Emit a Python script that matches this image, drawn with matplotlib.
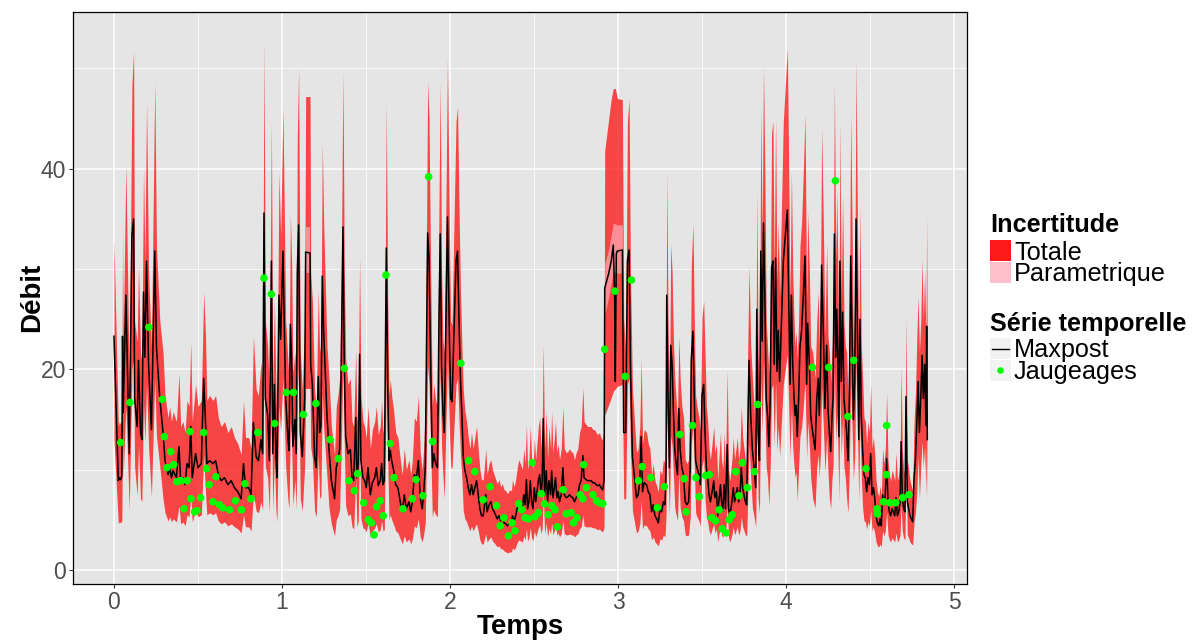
import matplotlib
matplotlib.use("Agg")
import matplotlib.pyplot as plt
from matplotlib.patches import Rectangle
from matplotlib.lines import Line2D

plt.rcParams['font.family'] = ['Liberation Sans', 'DejaVu Sans']

# ---------------- data ----------------
t_series = [
0.000,0.026,0.032,0.040,0.047,0.051,0.055,0.071,0.091,0.107,0.117,0.123,0.138,0.146,0.158,0.166,0.176,0.184,0.194,0.206,
0.223,0.243,0.253,0.273,0.292,0.304,0.322,0.332,0.342,0.352,0.372,0.387,0.397,0.411,0.423,0.435,0.447,0.457,0.466,0.486,
0.500,0.520,0.534,0.545,0.553,0.569,0.589,0.605,0.621,0.638,0.658,0.678,0.698,0.717,0.737,0.757,0.771,0.783,0.802,0.816,
0.830,0.846,0.860,0.875,0.885,0.893,0.901,0.915,0.925,0.937,0.945,0.955,0.964,0.970,
0.982,0.992,1.006,1.022,1.036,1.042,1.050,1.058,1.065,1.077,1.085,1.091,1.099,1.109,1.121,1.135,1.141,1.167,1.171,1.181,
1.194,1.204,1.216,1.224,1.232,1.240,1.248,1.256,1.268,1.280,1.294,1.313,1.323,1.333,1.343,1.353,1.363,1.371,1.379,1.393,
1.407,1.417,1.427,1.439,1.446,1.454,1.462,1.470,1.482,1.492,1.502,1.512,1.526,1.538,1.552,1.562,1.573,1.585,1.593,1.601,
1.609,1.621,1.629,1.637,1.645,1.653,1.665,1.677,1.690,1.704,1.716,1.728,1.740,1.756,1.766,1.776,1.788,1.800,1.812,1.823,
1.835,1.843,1.853,1.867,1.875,1.885,1.895,1.903,1.915,1.925,1.935,1.942,1.950,1.958,1.966,1.978,1.985,
1.996,2.004,2.012,2.024,2.036,2.045,2.055,2.063,2.071,2.079,2.089,2.099,2.109,2.119,2.128,2.138,2.148,2.158,2.168,2.178,
2.188,2.198,2.208,2.213,2.221,2.233,2.243,2.253,2.263,2.273,2.281,2.292,2.302,2.312,2.322,2.332,2.342,2.356,2.366,2.372,
2.382,2.391,2.399,2.409,2.419,2.431,2.439,2.447,2.455,2.462,2.470,2.478,2.486,2.494,2.502,2.510,2.518,2.526,2.534,2.542,
2.549,2.555,2.563,2.573,2.581,2.589,2.599,2.605,2.613,2.621,2.628,2.636,2.644,2.652,2.662,2.672,2.680,2.692,2.702,2.711,
2.721,2.731,2.741,2.751,2.761,2.771,2.781,2.791,2.798,2.810,2.820,2.830,2.840,2.850,2.860,2.870,2.879,2.889,2.899,2.909,
2.917,2.921,2.945,2.960,2.972,2.980,2.984,2.990,2.996,3.026,3.034,3.046,3.056,3.066,3.074,3.086,3.100,3.110,3.120,3.130,
3.138,3.146,3.156,3.170,3.180,3.190,3.200,3.210,3.220,3.230,3.240,3.250,3.260,3.270,3.280,3.286,3.290,3.298,3.306,3.314,
3.322,3.330,3.338,3.346,3.354,3.362,3.370,3.380,3.390,3.400,3.410,3.420,3.430,3.436,3.446,3.454,3.462,3.470,3.482,3.490,
3.500,3.510,3.518,3.526,3.534,3.542,3.550,3.560,3.570,3.576,3.586,3.594,3.600,3.610,3.616,3.624,3.632,3.640,3.650,3.658,
3.666,3.678,3.686,3.694,3.702,3.710,3.718,3.726,3.734,3.742,3.750,3.758,3.766,3.772,3.780,3.790,3.800,3.810,3.820,3.826,
3.834,3.842,3.850,3.858,3.866,3.874,3.882,3.890,3.898,3.906,3.914,3.922,3.930,3.938,3.946,3.954,3.962,
3.984,4.000,4.008,4.016,4.024,4.032,4.040,4.048,4.054,4.060,4.067,4.075,4.083,4.093,4.103,4.113,4.123,4.129,4.139,4.147,
4.159,4.173,4.183,4.192,4.198,4.206,4.212,4.222,4.232,4.242,4.250,4.258,4.266,4.274,4.280,4.288,4.296,4.302,4.308,4.315,
4.321,4.329,4.337,4.345,4.353,4.361,4.369,4.377,4.385,4.393,4.401,4.409,4.417,4.425,4.433,4.440,4.448,4.456,4.464,4.472,
4.480,4.488,4.496,4.504,4.512,4.520,4.528,4.536,4.544,4.552,4.560,4.567,4.575,4.583,4.591,4.599,4.607,4.615,4.623,4.631,
4.639,4.647,4.655,4.663,4.671,4.679,4.685,4.692,4.700,4.708,4.714,4.722,4.730,4.738,4.746,4.754,4.762,4.770,4.778,4.786,
4.794,4.802,4.810,4.817,4.825,4.833,4.837,4.841]

q_maxpost = [
23.3,8.9,9.2,9.0,9.4,23.3,15.7,27.4,11.6,33.4,35.0,17.1,14.3,20.9,13.7,13.0,27.7,21.2,30.8,20.5,
14.0,31.8,22.2,17.1,13.7,10.9,9.5,10.2,9.2,9.9,9.2,12.3,8.9,9.2,8.5,10.6,10.2,14.3,9.2,11.6,
10.2,10.6,19.1,14.7,10.6,10.9,10.6,10.9,9.5,8.9,9.2,8.5,8.9,8.2,7.8,7.1,10.6,8.2,8.2,7.5,
14.7,11.3,10.9,13.0,11.6,35.6,17.1,15.4,10.9,30.8,11.6,18.5,11.3,9.2,
27.4,23.0,31.8,17.1,13.0,11.9,24.5,20.9,12.3,15.0,11.6,29.6,34.4,13.7,11.3,17.1,31.7,31.6,20.5,18.5,
11.3,10.2,19.3,13.7,14.3,29.3,23.9,20.5,15.4,12.0,8.9,7.1,10.2,10.9,12.0,20.5,34.2,20.5,13.3,11.6,
12.0,9.2,8.9,15.2,9.2,10.6,21.5,10.9,9.2,8.9,8.2,10.2,7.5,8.7,9.2,10.2,8.4,8.9,10.6,8.5,
8.9,32.1,18.8,10.9,11.9,10.9,9.9,8.5,8.2,6.8,5.8,7.5,6.1,6.8,5.8,6.8,9.5,9.2,10.9,7.2,
6.1,7.5,10.2,33.6,31.2,20.5,10.2,11.6,10.6,10.2,25.7,33.5,20.5,15.7,13.7,27.4,35.2,
23.9,17.1,16.8,23.9,30.8,31.8,23.9,18.8,15.4,11.3,9.9,9.2,8.2,7.5,8.5,7.5,8.2,8.9,7.5,6.1,
5.4,5.4,6.8,7.5,5.8,6.5,6.8,6.1,5.8,5.4,5.1,5.4,4.9,5.1,4.7,4.6,4.4,4.7,4.6,5.4,
4.9,5.4,6.1,6.8,6.5,6.1,7.5,6.5,9.0,6.1,6.8,8.9,6.8,6.1,8.2,6.8,7.8,8.9,9.5,7.5,
8.9,15.1,7.5,9.9,6.8,8.9,7.5,9.9,7.2,8.2,9.2,7.2,7.8,6.8,7.5,10.2,7.5,7.2,7.3,7.5,
7.3,7.2,6.8,7.2,7.5,8.5,8.9,11.4,9.2,9.0,8.9,8.9,8.9,8.7,8.7,8.5,8.4,8.5,8.2,8.0,
8.9,28.1,29.6,30.8,32.4,27.4,18.8,31.5,31.8,31.9,13.7,13.7,30.8,31.9,20.5,11.3,8.9,7.2,7.5,8.9,
13.3,7.8,8.7,8.5,7.8,7.5,5.8,6.5,5.4,5.1,4.7,6.1,5.8,6.8,6.5,10.2,27.4,17.1,10.2,22.4,
20.5,15.7,12.0,10.6,9.5,16.1,12.0,10.2,9.5,6.8,6.5,6.8,10.2,20.9,23.8,17.1,10.9,10.2,9.5,8.5,
17.4,18.5,13.7,10.2,9.2,7.5,6.8,7.8,8.9,7.2,7.8,5.4,6.8,8.5,6.8,6.1,8.5,6.1,12.5,6.1,
5.4,6.8,8.2,6.8,7.5,8.2,6.8,7.5,10.2,8.2,7.5,6.8,6.5,13.7,20.9,15.4,12.0,10.2,8.2,26.0,
13.7,10.9,31.8,22.8,34.6,27.4,17.1,15.4,12.3,17.1,30.1,30.8,20.5,31.1,19.8,23.9,18.8,
30.8,34.2,35.9,27.4,18.5,27.4,20.5,17.1,15.4,16.4,13.3,17.1,22.2,23.9,27.4,31.3,18.5,24.6,20.5,15.4,
13.7,12.0,17.1,19.1,15.4,20.5,30.4,23.9,16.1,22.4,16.1,13.7,11.8,15.4,17.1,33.5,21.2,26.0,21.2,13.3,
30.8,18.8,25.7,17.1,15.4,13.7,10.9,17.1,31.3,23.9,15.0,18.8,35.0,23.9,13.0,25.0,15.4,12.0,9.5,9.2,
7.8,9.2,8.5,11.6,7.5,8.2,7.2,5.4,4.7,4.4,5.1,4.4,7.5,6.5,7.5,11.1,6.8,5.8,5.4,6.1,
5.8,5.4,7.2,5.4,5.8,6.8,12.8,7.5,6.1,5.8,17.3,6.8,6.1,5.4,5.1,4.8,9.2,10.9,14.4,18.8,
13.7,17.1,21.4,17.1,20.5,14.4,24.3,13.0]

q_total_low = [
13.0,4.6,4.8,4.7,4.9,14.0,9.4,16.4,6.0,20.0,21.0,10.3,7.4,12.5,7.1,6.8,16.6,12.7,18.5,12.3,
7.3,19.1,13.3,10.3,7.1,5.7,4.9,5.3,4.8,5.1,4.8,6.4,4.6,4.8,4.4,5.5,5.3,7.4,4.8,6.0,
5.3,5.5,11.5,7.6,5.5,5.7,5.5,5.7,4.9,4.6,4.8,4.4,4.6,4.3,4.1,3.7,5.5,4.3,4.3,3.9,
7.6,5.9,5.7,6.8,6.0,21.4,10.3,9.2,5.7,18.5,6.0,11.1,5.9,4.8,
16.4,13.8,19.1,10.3,6.8,6.2,14.7,12.5,6.4,9.0,6.0,17.8,20.6,7.1,5.9,10.3,18.1,18.1,12.3,11.1,
5.9,5.3,11.6,7.1,7.4,17.6,14.3,12.3,9.2,6.2,4.6,3.4,5.0,5.4,6.0,12.3,20.5,12.3,6.4,5.4,
5.6,4.3,4.1,9.1,4.3,4.9,12.9,5.1,4.2,4.1,3.8,4.7,3.3,3.9,4.2,4.6,3.8,4.0,4.9,3.9,
4.0,19.3,11.3,5.0,5.5,5.0,4.5,3.9,3.7,3.1,2.6,3.4,2.8,3.1,2.6,3.1,4.4,4.2,5.1,3.3,
2.8,3.5,4.7,20.2,18.7,12.3,5.3,6.0,5.5,5.3,15.4,20.1,12.3,9.4,7.1,16.4,21.1,
14.3,10.3,10.1,14.3,18.5,19.1,14.3,11.3,9.2,5.9,5.1,4.8,4.3,3.9,4.4,3.9,4.3,4.6,3.9,3.0,
2.6,2.6,3.3,3.6,2.8,3.1,3.3,2.9,2.7,2.5,2.3,2.4,2.1,2.1,1.9,1.8,1.7,1.8,1.8,2.2,
2.0,2.3,2.7,3.0,2.9,2.8,3.4,3.0,4.1,2.9,3.2,4.2,3.2,2.9,3.9,3.3,3.7,4.2,4.5,3.6,
4.2,8.0,3.6,4.7,3.3,4.2,3.6,4.7,3.5,3.9,4.4,3.5,3.7,3.3,3.6,4.9,3.6,3.5,3.5,3.6,
3.5,3.5,3.3,3.5,3.6,4.1,4.3,5.5,4.4,4.3,4.3,4.3,4.3,4.2,4.2,4.1,4.0,4.1,3.9,3.8,
4.3,15.4,16.5,17.2,17.8,18.0,18.0,18.2,18.3,18.5,7.1,7.1,18.5,19.1,12.3,5.9,4.6,3.7,3.9,4.6,
6.9,4.1,4.5,4.4,4.1,3.9,3.0,3.3,2.8,2.6,2.4,3.1,3.0,3.5,3.3,5.3,16.4,10.3,5.3,13.4,
12.3,9.4,6.2,5.5,4.9,9.7,6.2,5.3,4.9,3.5,3.4,3.5,5.3,12.5,14.3,10.3,5.7,5.3,4.9,4.4,
10.4,11.1,7.1,5.3,4.8,3.9,3.5,4.1,4.6,3.7,4.1,2.8,3.5,4.4,3.5,3.2,4.4,3.2,6.5,3.2,
2.8,3.5,4.3,3.5,3.9,4.3,3.5,3.9,5.3,4.3,3.9,3.5,3.4,7.1,12.5,9.2,6.2,5.3,4.3,15.6,
7.1,5.7,19.1,13.7,20.8,16.4,10.3,9.2,6.4,10.3,18.1,18.5,12.3,18.7,11.9,14.3,11.3,
18.5,20.5,21.5,16.4,11.1,16.4,12.3,10.3,9.2,9.8,6.9,10.3,13.3,14.3,16.4,18.8,11.1,14.8,12.3,9.2,
7.1,6.2,10.3,11.5,9.2,12.3,18.2,14.3,9.7,13.4,9.7,7.1,6.1,9.2,10.3,20.1,12.7,15.6,12.7,6.9,
18.5,11.3,15.4,10.3,9.2,7.1,5.7,10.3,18.8,14.3,9.0,11.3,21.0,14.3,6.8,15.0,9.2,6.2,4.9,4.8,
4.1,4.8,4.4,6.0,3.9,4.3,3.7,2.8,2.4,2.3,2.6,2.3,3.9,3.4,3.9,5.8,3.5,3.0,2.8,3.2,
3.0,2.8,3.7,2.8,3.0,3.5,6.7,3.9,3.2,3.0,10.4,3.5,3.2,2.8,2.6,2.5,4.8,5.7,7.5,11.3,
7.1,10.3,12.8,10.3,12.3,7.5,14.6,6.8]

q_total_high = [
33.0,14.3,14.8,14.5,15.1,34.0,22.8,40.4,18.5,48.4,51.7,24.8,22.7,30.3,21.7,20.7,40.2,30.7,46.6,29.7,
22.2,48.6,32.2,24.8,21.7,17.4,15.2,16.3,14.8,15.8,14.8,19.6,14.3,14.8,13.7,16.9,16.3,22.7,14.8,18.5,
16.3,16.9,27.7,23.3,16.9,17.4,16.9,17.4,15.2,14.3,14.8,13.7,14.3,13.2,12.6,11.5,16.9,13.2,13.2,12.1,
23.3,18.0,17.4,20.7,18.5,52.7,24.8,22.3,17.4,44.7,18.5,26.8,18.0,14.8,
39.7,33.4,46.1,24.8,20.7,19.0,35.5,30.3,19.6,21.8,18.5,42.9,49.9,21.7,18.0,24.8,47.2,47.2,29.7,26.8,
18.0,16.3,28.0,21.7,22.7,42.5,34.7,29.7,22.3,19.1,14.3,11.5,16.3,17.4,19.1,29.7,49.6,29.7,21.1,18.5,
19.1,14.8,14.3,22.0,14.8,16.9,31.2,17.4,14.8,14.3,13.2,16.3,12.1,14.0,14.8,16.3,13.5,14.3,16.9,13.7,
14.3,46.5,27.3,17.4,19.0,17.4,15.8,13.7,13.2,11.0,9.5,12.1,10.0,11.0,9.5,11.0,15.2,14.8,17.4,11.7,
10.0,12.1,16.3,48.7,45.2,29.7,16.3,18.5,16.9,16.3,37.3,48.6,29.7,22.8,21.7,39.7,51.0,
34.7,24.8,24.4,34.7,44.7,46.1,34.7,27.3,22.3,18.0,15.8,14.8,13.2,12.1,13.7,12.1,13.2,14.3,12.1,10.0,
9.0,9.0,11.0,12.1,9.5,10.6,11.0,10.0,9.5,9.0,8.6,9.0,8.3,8.6,8.0,7.9,7.6,8.0,7.9,9.0,
8.3,9.0,10.0,11.0,10.6,10.0,12.1,10.6,14.5,10.0,11.0,14.3,11.0,10.0,13.2,11.0,12.6,14.3,15.2,12.1,
14.3,22.5,12.1,15.8,11.0,14.3,12.1,15.8,11.7,13.2,14.8,11.7,12.6,11.0,12.1,16.3,12.1,11.7,11.8,12.1,
11.8,11.7,11.0,11.7,12.1,13.7,14.3,18.2,14.8,14.5,14.3,14.3,14.3,14.0,14.0,13.7,13.5,13.7,13.2,12.9,
14.3,41.8,45.0,47.0,48.0,48.0,48.0,47.5,47.0,46.9,25.0,21.7,44.7,47.0,29.7,18.0,14.3,11.7,12.1,14.3,
21.1,12.6,14.0,13.7,12.6,12.1,9.5,10.6,8.9,8.4,7.8,10.0,9.5,11.0,10.6,16.3,39.7,24.8,16.3,32.5,
29.7,22.8,19.1,16.9,15.2,23.3,19.1,16.3,15.2,11.0,10.6,11.0,16.3,30.3,34.5,24.8,17.4,16.3,15.2,13.7,
25.2,26.8,21.7,16.3,14.8,12.1,11.0,12.6,14.3,11.7,12.6,8.9,11.0,13.7,11.0,10.0,13.7,10.0,19.9,10.0,
8.9,11.0,13.2,11.0,12.1,13.2,11.0,12.1,16.3,13.2,12.1,11.0,10.6,21.7,30.3,22.3,19.1,16.3,13.2,37.7,
21.7,17.4,46.1,33.1,50.2,39.7,24.8,22.3,19.6,24.8,43.6,44.7,29.7,45.1,28.7,34.7,27.3,
44.7,49.6,52.0,39.7,26.8,39.7,29.7,24.8,22.3,23.8,21.1,24.8,32.2,34.7,39.7,45.4,26.8,35.7,29.7,22.3,
21.7,19.1,24.8,27.7,22.3,29.7,44.1,34.7,23.3,32.5,23.3,21.7,18.8,22.3,24.8,48.6,30.7,37.7,30.7,21.1,
44.7,27.3,37.3,24.8,22.3,21.7,17.4,24.8,45.4,34.7,21.8,27.3,50.8,34.7,20.7,36.3,22.3,19.1,15.2,14.8,
12.6,14.8,13.7,18.5,12.1,13.2,11.7,8.9,7.8,7.3,8.4,7.3,12.1,10.6,12.1,17.7,11.0,9.5,8.9,10.0,
9.5,8.9,11.7,8.9,9.5,11.0,20.3,12.1,10.0,9.5,25.1,11.0,10.0,8.9,8.4,7.9,14.8,17.4,22.8,27.3,
21.7,24.8,31.0,24.8,29.7,22.8,35.2,20.7]

# parametric uncertainty (visible only where it is not hidden by the maxpost line)
t_param_a = [1.141, 1.167]
q_param_a_low = [29.6, 29.6]
q_param_a_high = [34.2, 34.2]
t_param_b = [2.921, 2.945, 2.972, 2.996, 3.026]
q_param_b_low = [25.5, 27.2, 29.8, 29.6, 29.6]
q_param_b_high = [30.5, 32.0, 34.6, 34.4, 34.4]

t_gauge = [
0.040,0.095,0.2075,0.287,0.300,0.338,0.316,0.356,0.375,0.399,0.435,0.453,0.534,0.458,0.417,0.480,0.494,0.516,0.551,0.567,
0.607,0.589,0.628,0.648,0.688,0.723,0.759,0.779,0.816,0.856,0.893,0.937,0.957,
1.026,1.069,1.127,1.202,1.286,1.371,1.335,1.399,1.431,1.450,1.486,1.514,1.532,1.548,1.563,1.585,1.603,1.619,1.645,1.667,
1.720,1.776,1.798,1.839,1.873,1.897,
2.065,2.111,2.148,2.239,2.198,2.277,2.320,2.298,2.348,2.370,2.387,2.409,2.427,2.447,2.468,2.490,2.506,2.526,2.543,2.563,
2.585,2.607,2.625,2.640,2.674,2.692,2.721,2.735,2.755,2.775,2.791,2.796,2.812,2.850,2.872,2.889,2.909,2.921,2.982,
3.080,3.042,3.122,3.144,3.196,3.234,3.276,3.368,3.394,3.406,3.444,3.464,3.484,3.522,3.544,3.558,3.580,3.602,3.620,3.644,
3.662,3.680,3.700,3.720,3.740,3.770,3.812,3.832,
4.157,4.254,4.294,4.403,4.369,4.476,4.599,4.597,4.542,4.544,4.581,4.617,4.653,4.694,4.732]

q_gauge = [
12.7,16.7,24.2,17.0,13.3,11.8,10.2,10.5,8.8,8.9,8.9,13.8,13.7,7.1,6.1,5.8,5.9,7.2,10.1,8.5,
9.3,6.8,6.5,6.2,6.0,6.9,6.0,8.6,7.1,13.7,29.1,27.5,14.6,
17.7,17.7,15.5,16.6,13.0,20.1,11.1,8.9,7.9,9.6,6.7,5.0,4.7,3.5,6.3,6.9,5.4,29.4,12.6,9.2,
6.1,7.1,9.0,7.4,39.2,12.8,
20.6,10.9,9.8,8.3,7.0,6.4,5.2,4.4,3.4,4.7,3.9,6.6,6.0,5.2,5.1,10.7,5.3,5.7,7.6,6.6,
5.5,6.4,6.0,4.3,8.0,5.6,5.7,4.7,5.2,7.5,7.1,10.5,8.2,7.5,6.9,6.7,6.6,22.0,27.8,
28.9,19.3,8.9,10.3,9.2,6.2,8.3,13.5,9.1,5.8,14.4,9.2,7.3,9.4,9.5,5.2,4.9,6.0,4.1,3.7,
5.0,5.5,9.8,7.4,10.7,8.2,9.8,16.5,
20.2,20.2,38.8,20.9,15.3,10.1,14.4,9.5,6.1,5.6,6.8,6.7,6.7,7.2,7.5]

x_ticks = [0, 1, 2, 3, 4, 5]
y_ticks = [0, 20, 40]
x_label = "Temps"
y_label = "Débit"
legend_fill_title = "Incertitude"
legend_fill_labels = ["Totale", "Parametrique"]
legend_series_title = "Série temporelle"
legend_series_labels = ["Maxpost", "Jaugeages"]

# ---------------- figure ----------------
W, H = 1197, 644
fig = plt.figure(figsize=(W / 100, H / 100), dpi=100)
fig.patch.set_facecolor("white")

L, R, T, B = 73.3, 967.3, 11.7, 583.7
ax = fig.add_axes([L / W, 1 - B / H, (R - L) / W, (B - T) / H])
ax.set_facecolor("#E5E5E5")
ax.set_xlim(-0.242, 5.079)
ax.set_ylim(-1.37, 55.66)

ax.set_xticks(x_ticks)
ax.set_xticks([0.5, 1.5, 2.5, 3.5, 4.5], minor=True)
ax.set_yticks(y_ticks)
ax.set_yticks([10, 30, 50], minor=True)
ax.grid(which="major", color="white", linewidth=1.1)
ax.grid(which="minor", color="white", linewidth=0.55)
ax.set_axisbelow(True)
ax.tick_params(which="major", length=2.6, width=0.8, color="#333333",
               labelsize=16.5, labelcolor="#4D4D4D", pad=2.5)
ax.tick_params(which="minor", length=0)
for s in ax.spines.values():
    s.set_color("black")
    s.set_linewidth(0.9)

ax.fill_between(t_series, q_total_low, q_total_high, color="red", alpha=0.7,
                linewidth=0, zorder=2)
ax.fill_between(t_param_a, q_param_a_low, q_param_a_high, color="pink",
                alpha=0.6, linewidth=0, zorder=3)
ax.fill_between(t_param_b, q_param_b_low, q_param_b_high, color="pink",
                alpha=0.6, linewidth=0, zorder=3)
ax.plot(t_series, q_maxpost, color="black", linewidth=1.1, zorder=4)
ax.scatter(t_gauge, q_gauge, s=30, color="#00FF00", edgecolors="none", zorder=5)

fig.text((L + R) / 2 / W, 1 - 627 / H, x_label, ha="center", va="center",
         fontsize=20, fontweight="bold")
fig.text(32 / W, 1 - 297 / H, y_label, ha="center", va="center",
         rotation=90, fontsize=20, fontweight="bold")

# ---------------- legend (pixel coordinates) ----------------
lg = fig.add_axes([0, 0, 1, 1], facecolor="none")
lg.set_xlim(0, W)
lg.set_ylim(H, 0)
lg.axis("off")

fs = 18.2
kx, kw = 990, 21
lg.text(kx, 231.5, legend_fill_title, fontsize=fs, fontweight="bold",
        va="baseline", ha="left")
lg.add_patch(Rectangle((kx, 240), kw, 21, facecolor="#FF1A1A", edgecolor="none"))
lg.add_patch(Rectangle((kx, 262), kw, 21, facecolor="#FFC0CB", edgecolor="none"))
lg.text(1014, 259.5, legend_fill_labels[0], fontsize=fs, va="baseline", ha="left")
lg.text(1014, 281, legend_fill_labels[1], fontsize=fs, va="baseline", ha="left")

lg.text(kx, 330.5, legend_series_title, fontsize=fs, fontweight="bold",
        va="baseline", ha="left")
lg.add_patch(Rectangle((kx, 338), kw, 21, facecolor="#F2F2F2", edgecolor="none"))
lg.add_patch(Rectangle((kx, 360), kw, 21, facecolor="#F2F2F2", edgecolor="none"))
lg.add_line(Line2D([kx + 2, kx + kw - 2], [348.5, 348.5], color="black", linewidth=1.0))
lg.scatter([kx + kw / 2], [370.5], s=22, color="#00FF00", edgecolors="none")
lg.text(1014, 357, legend_series_labels[0], fontsize=fs, va="baseline", ha="left")
lg.text(1014, 378.5, legend_series_labels[1], fontsize=fs, va="baseline", ha="left")

fig.savefig("out.png", dpi=100)
